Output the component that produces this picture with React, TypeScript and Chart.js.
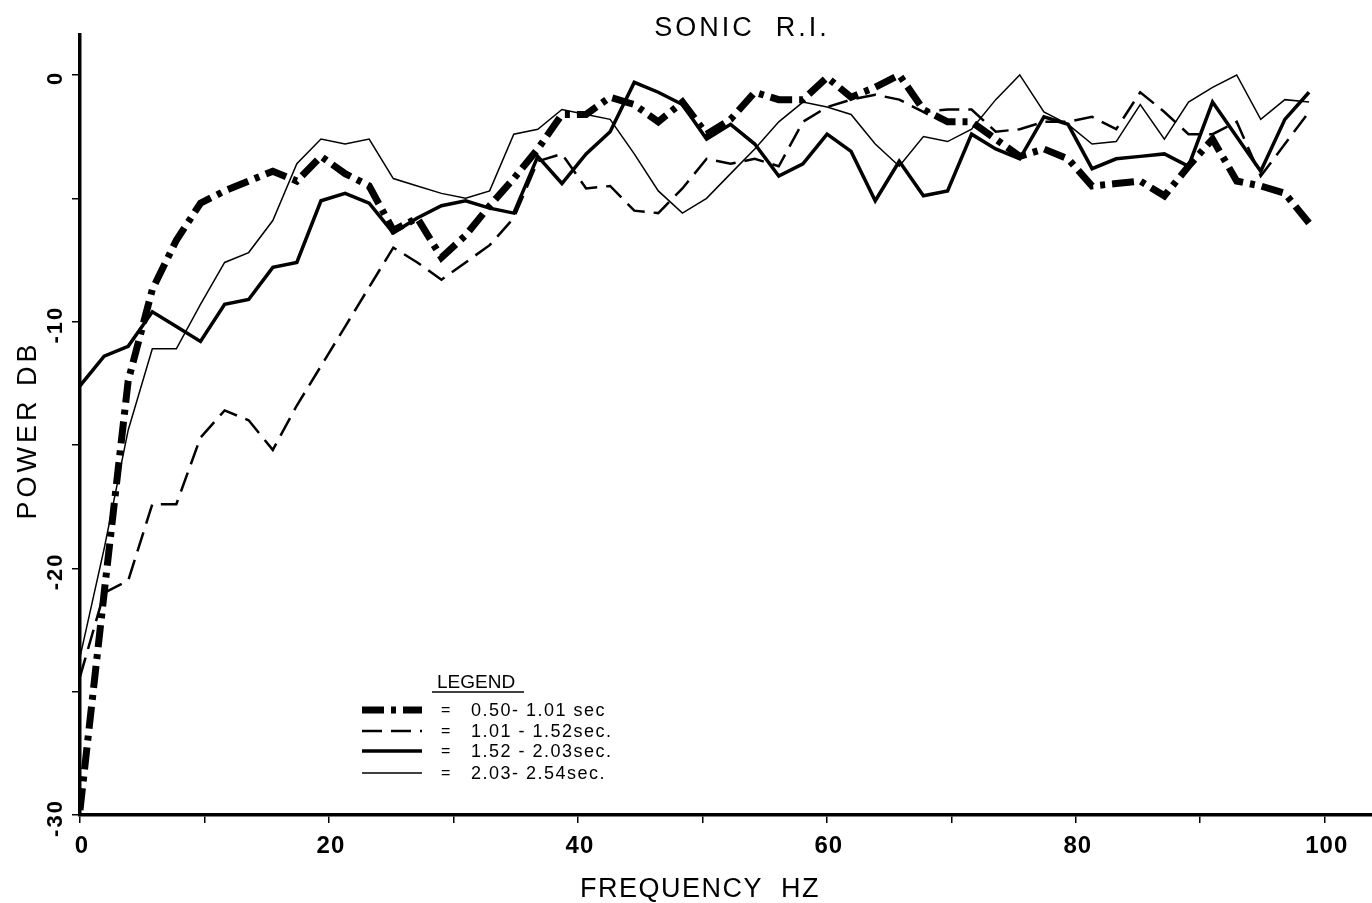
import { useEffect, useRef } from "react";
import { Chart, registerables } from "chart.js";

Chart.register(...registerables);

// Spectral bin centre frequencies (Hz)
const FREQ_HZ = [
  0, 1.94, 3.87, 5.81, 7.74, 9.68, 11.62, 13.55, 15.49, 17.42, 19.36, 21.3, 23.23,
  25.17, 27.1, 29.04, 30.98, 32.91, 34.85, 36.78, 38.72, 40.66, 42.59, 44.53, 46.46, 48.4,
  50.34, 52.27, 54.21, 56.14, 58.08, 60.02, 61.95, 63.89, 65.82, 67.76, 69.7, 71.63, 73.57,
  75.5, 77.44, 79.38, 81.31, 83.25, 85.18, 87.12, 89.06, 90.99, 92.93, 94.86, 96.8, 98.74,
];

// Power (dB) for each time window
const POWER_050_101 = [
  -29.8, -21.0, -12.4, -8.7, -6.7, -5.2, -4.7, -4.3, -3.9, -4.3, -3.3, -4.0, -4.5,
  -6.3, -5.8, -7.4, -6.5, -5.3, -4.2, -3.0, -1.6, -1.6, -0.9, -1.2, -1.9, -1.1,
  -2.4, -1.8, -0.7, -1.0, -1.0, -0.1, -0.9, -0.5, 0.0, -1.4, -1.9, -1.9, -2.6,
  -3.3, -3.0, -3.4, -4.5, -4.4, -4.3, -4.9, -3.7, -2.6, -4.3, -4.5, -4.8, -6.0,
];
const POWER_101_152 = [
  -24.4, -21.0, -20.5, -17.4, -17.4, -14.7, -13.6, -14.0, -15.2, -13.4, -11.8, -10.2, -8.6,
  -7.0, -7.6, -8.3, -7.6, -6.9, -5.8, -3.5, -3.2, -4.6, -4.5, -5.5, -5.6, -4.6,
  -3.4, -3.6, -3.4, -3.7, -1.9, -1.3, -1.0, -0.8, -1.0, -1.5, -1.4, -1.4, -2.3,
  -2.2, -1.9, -1.9, -1.7, -2.2, -0.7, -1.5, -2.4, -2.4, -1.9, -4.1, -2.8, -1.5,
];
const POWER_152_203 = [
  -12.6, -11.4, -11.0, -9.6, -10.2, -10.8, -9.3, -9.1, -7.8, -7.6, -5.1, -4.8, -5.2,
  -6.4, -5.8, -5.3, -5.1, -5.4, -5.6, -3.3, -4.4, -3.2, -2.3, -0.3, -0.7, -1.2,
  -2.6, -2.0, -2.8, -4.1, -3.6, -2.4, -3.1, -5.1, -3.5, -4.9, -4.7, -2.4, -3.0,
  -3.4, -1.7, -2.0, -3.8, -3.4, -3.3, -3.2, -3.7, -1.1, -2.5, -3.9, -1.8, -0.7,
];
const POWER_203_254 = [
  -23.6, -19.2, -14.4, -11.1, -11.1, -9.3, -7.6, -7.2, -5.9, -3.6, -2.6, -2.8, -2.6,
  -4.2, -4.5, -4.8, -5.0, -4.7, -2.4, -2.2, -1.4, -1.6, -1.8, -3.2, -4.7, -5.6,
  -5.0, -4.0, -3.0, -1.9, -1.1, -1.3, -1.6, -2.8, -3.7, -2.5, -2.7, -2.2, -1.0,
  0.0, -1.5, -2.0, -2.8, -2.7, -1.2, -2.6, -1.1, -0.5, 0.0, -1.8, -1.0, -1.1,
];

const WINDOW_LABELS = ["0.50- 1.01 sec", "1.01 - 1.52sec.", "1.52 - 2.03sec.", "2.03- 2.54sec."];
const X_TICK_LABELS = [0, 20, 40, 60, 80, 100];
const Y_TICK_LABELS = [0, -10, -20, -30];

const TITLE = "SONIC  R.I.";
const X_TITLE = "FREQUENCY  HZ";
const Y_TITLE = "POWER DB";

const FONT = '"Liberation Sans", Arial, sans-serif';

type LineStyle = { width: number; dash: number[] };
const STYLES: LineStyle[] = [
  { width: 7, dash: [22, 7, 5, 7] },
  { width: 2.5, dash: [20, 9] },
  { width: 3.5, dash: [] },
  { width: 1.5, dash: [] },
];

const SERIES = [POWER_050_101, POWER_101_152, POWER_152_203, POWER_203_254];

const annotations = {
  id: "annotations",
  afterDraw(chart: any) {
    const ctx: CanvasRenderingContext2D = chart.ctx;
    const xs = chart.scales.x;
    const ys = chart.scales.y;
    ctx.save();
    ctx.fillStyle = "#000";
    ctx.strokeStyle = "#000";

    // title
    ctx.font = `27px ${FONT}`;
    (ctx as any).letterSpacing = "3px";
    ctx.textAlign = "center";
    ctx.textBaseline = "alphabetic";
    ctx.fillText(TITLE, 742, 36);

    // x tick labels
    ctx.font = `bold 24px ${FONT}`;
    (ctx as any).letterSpacing = "1px";
    for (const v of X_TICK_LABELS) {
      ctx.fillText(String(v), xs.getPixelForValue(v) + 2, 853);
    }

    // y tick labels, rotated
    ctx.font = `bold 22px ${FONT}`;
    (ctx as any).letterSpacing = "2px";
    for (const v of Y_TICK_LABELS) {
      ctx.save();
      ctx.translate(62, ys.getPixelForValue(v) + 3);
      ctx.rotate(-Math.PI / 2);
      ctx.fillText(String(v), 0, 0);
      ctx.restore();
    }

    // axis titles
    ctx.font = `27px ${FONT}`;
    (ctx as any).letterSpacing = "1.5px";
    ctx.fillText(X_TITLE, 700, 897);
    ctx.save();
    ctx.translate(36, 430);
    ctx.rotate(-Math.PI / 2);
    (ctx as any).letterSpacing = "4px";
    ctx.fillText(Y_TITLE, 0, 0);
    ctx.restore();

    // legend
    (ctx as any).letterSpacing = "0px";
    ctx.font = `19px ${FONT}`;
    ctx.textAlign = "left";
    ctx.fillText("LEGEND", 437, 688);
    ctx.lineWidth = 1.5;
    ctx.beginPath();
    ctx.moveTo(432, 692);
    ctx.lineTo(524, 692);
    ctx.stroke();

    const rows = [710, 731, 751, 773];
    WINDOW_LABELS.forEach((label, i) => {
      const y = rows[i];
      const st = STYLES[i];
      ctx.save();
      ctx.lineWidth = st.width;
      ctx.setLineDash(st.dash);
      ctx.beginPath();
      ctx.moveTo(362, y);
      ctx.lineTo(422, y);
      ctx.stroke();
      ctx.restore();
      ctx.font = `16px ${FONT}`;
      (ctx as any).letterSpacing = "0px";
      ctx.fillText("=", 441, y + 5);
      ctx.font = `18px ${FONT}`;
      (ctx as any).letterSpacing = "1.5px";
      ctx.fillText(label, 471, y + 6);
    });
    ctx.restore();
  },
};

export default function App() {
  const ref = useRef<HTMLCanvasElement>(null);

  useEffect(() => {
    document.body.style.margin = "0";
    const canvas = ref.current;
    if (!canvas) return;
    const chart = new Chart(canvas, {
      type: "line",
      data: {
        datasets: SERIES.map((vals, i) => ({
          label: WINDOW_LABELS[i],
          data: FREQ_HZ.map((f, k) => ({ x: f, y: vals[k] })),
          borderColor: "#000",
          backgroundColor: "#000",
          borderWidth: STYLES[i].width,
          borderDash: STYLES[i].dash,
          borderJoinStyle: "miter" as const,
          pointRadius: 0,
          tension: 0,
          fill: false,
        })),
      },
      options: {
        responsive: false,
        animation: false,
        layout: { padding: { top: 35, left: 0, right: 0, bottom: 0 } },
        plugins: {
          legend: { display: false },
          tooltip: { enabled: false },
          title: { display: false },
        },
        scales: {
          x: {
            type: "linear",
            min: 0,
            max: 103.8,
            ticks: { stepSize: 10, display: false, includeBounds: false },
            grid: {
              display: true,
              drawOnChartArea: false,
              drawTicks: true,
              tickLength: 8,
              color: "#000",
              lineWidth: 1.5,
            },
            border: { display: true, color: "#000", width: 3.5 },
            afterFit: (s: any) => {
              s.height = 88;
            },
          },
          y: {
            type: "linear",
            min: -30,
            max: 1.62,
            ticks: { stepSize: 5, display: false, includeBounds: false },
            grid: {
              display: true,
              drawOnChartArea: false,
              drawTicks: true,
              tickLength: 8,
              color: "#000",
              lineWidth: 1.5,
            },
            border: { display: true, color: "#000", width: 3.5 },
            afterFit: (s: any) => {
              s.width = 80;
            },
          },
        },
      },
      plugins: [annotations],
    });
    return () => chart.destroy();
  }, []);

  return <canvas ref={ref} width={1372} height={903} style={{ display: "block" }} />;
}
